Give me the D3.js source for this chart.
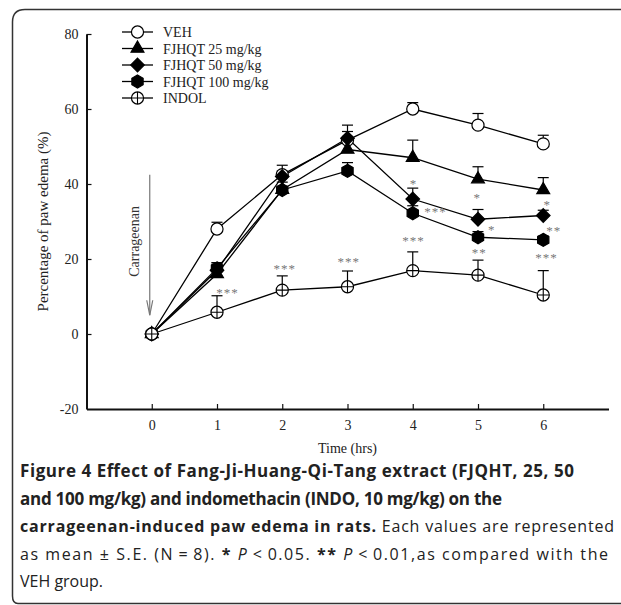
<!DOCTYPE html>
<html>
<head>
<meta charset="utf-8">
<script src="https://cdn.jsdelivr.net/npm/d3@7"></script>
<style>
  body { margin: 0; background: #fff; }
  svg { display: block; }
  .caption { font-family: "Open Sans", sans-serif; font-size: 16px; fill: #222; }
</style>
</head>
<body>
<svg id="chart"></svg>
<script>
// values
const hours = [0, 1, 2, 3, 4, 5, 6];
const groupNames = ['VEH', 'FJHQT 25 mg/kg', 'FJHQT 50 mg/kg', 'FJHQT 100 mg/kg', 'INDOL'];
const vehMean = [0, 28, 42.5, 51.7, 60, 55.7, 50.7];
const vehSE = [0, 1.8, 2.5, 2.3, 1.7, 3.1, 2.3];
const fj25Mean = [0, 16, 38.5, 49.2, 47, 41.3, 38.4];
const fj25SE = [0, 2.5, 2, 2, 4.7, 3.3, 3.3];
const fj50Mean = [0, 17, 42, 52.2, 36, 30.6, 31.6];
const fj50SE = [0, 2, 1.5, 3.5, 2.9, 2.6, 1.4];
const fj100Mean = [0, 17.5, 38.4, 43.5, 32.2, 25.8, 25.1];
const fj100SE = [0, 1.5, 1, 2.2, 2, 1.5, 1];
const indolMean = [0, 5.8, 11.7, 12.6, 16.9, 15.7, 10.4];
const indolSE = [0, 4.4, 3.8, 4.2, 5, 4, 6.5];
const yTicks = [-20, 0, 20, 40, 60, 80];
// significance marks: hour, value where the mark sits, text
const sigHours = [1.16, 2.04, 3.02, 4.01, 4.35, 4.01, 4.99, 5.21, 5.02, 6.06, 6.16, 6.05];
const sigValues = [11.5, 17.9, 19.7, 40.6, 33.1, 25.3, 36.8, 28.3, 22.1, 34.9, 28, 20.8];
const sigTexts = ['***', '***', '***', '*', '***', '***', '*', '*', '**', '*', '**', '***'];
const captionLines = [
  [['Figure 4 Effect of Fang-Ji-Huang-Qi-Tang extract (FJQHT, 25, 50', true]],
  [['and 100 mg/kg) and indomethacin (INDO, 10 mg/kg) on the', true]],
  [['carrageenan-induced paw edema in rats.', true], [' Each values are represented', false]],
  [['as mean \u00b1 S.E. (N\u2009=\u20098). ', false], ['*', true], [' P', 'i'], ['\u2009<\u20090.05. ', false], ['**', true], [' P', 'i'], ['\u2009<\u20090.01,as compared with the', false]],
  [['VEH group.', false]]
];
const captionWidths = [554, 482, 594, 588, 0];

const width = 621, height = 605;
const svg = d3.select('#chart').attr('width', width).attr('height', height);
const serif = '"Liberation Serif", "Times New Roman", serif';

// frame
svg.append('path')
  .attr('d', 'M640,9.5 L25,9.5 Q12.5,9.5 12.5,22 L12.5,596 Q12.5,603.5 18,603.5 L640,603.5')
  .attr('fill', 'none').attr('stroke', '#333').attr('stroke-width', 1.5);

const xScale = d3.scaleLinear().domain([-1, 7]).range([86.5, 608.5]);
const yScale = d3.scaleLinear().domain([-20, 80]).range([409, 34]);

const xAxis = d3.axisBottom(xScale).tickValues(hours).tickSize(-5).tickSizeOuter(0).tickPadding(11);
const yAxis = d3.axisLeft(yScale).tickValues(yTicks).tickFormat(d => String(d))
  .tickSize(-5).tickSizeOuter(0).tickPadding(8);

const gx = svg.append('g').attr('transform', 'translate(0,' + yScale(-20) + ')').call(xAxis);
const gy = svg.append('g').attr('transform', 'translate(' + xScale(-1) + ',0)').call(yAxis);
[gx, gy].forEach(g => {
  g.select('.domain').attr('stroke', '#111').attr('stroke-width', 2);
  g.selectAll('.tick line').attr('stroke', '#111').attr('stroke-width', 1.2);
  g.selectAll('text').attr('font-family', serif).attr('font-size', 14).attr('fill', '#222');
});
gy.select('.tick:first-of-type line').remove();

svg.append('text')
  .attr('transform', 'translate(48,' + yScale(30) + ') rotate(-90)')
  .attr('text-anchor', 'middle')
  .attr('font-family', serif).attr('font-size', 15).attr('fill', '#222')
  .text('Percentage of paw edema (%)');

svg.append('text')
  .attr('x', xScale(3)).attr('y', 453)
  .attr('text-anchor', 'middle')
  .attr('font-family', serif).attr('font-size', 14).attr('fill', '#222')
  .text('Time (hrs)');

// carrageenan arrow
const arrowX = xScale(0) - 2;
svg.append('line')
  .attr('x1', arrowX).attr('x2', arrowX)
  .attr('y1', yScale(42.5)).attr('y2', yScale(5))
  .attr('stroke', '#777').attr('stroke-width', 1.2);
svg.append('path')
  .attr('d', d3.line()([[arrowX - 3, yScale(9)], [arrowX, yScale(5)], [arrowX + 3, yScale(9)]]))
  .attr('fill', 'none').attr('stroke', '#777').attr('stroke-width', 1.2);
svg.append('text')
  .attr('transform', 'translate(' + (arrowX - 11) + ',' + yScale(24.7) + ') rotate(-90)')
  .attr('text-anchor', 'middle')
  .attr('font-family', serif).attr('font-size', 14).attr('fill', '#333')
  .text('Carrageenan');

// marker shapes
const polygon = (n, rot) => ({
  draw(context, size) {
    const r = Math.sqrt(size / (0.5 * n * Math.sin(2 * Math.PI / n)));
    for (let i = 0; i < n; i++) {
      const a = 2 * Math.PI / n * i + rot;
      if (i === 0) context.moveTo(r * Math.cos(a), r * Math.sin(a));
      else context.lineTo(r * Math.cos(a), r * Math.sin(a));
    }
    context.closePath();
  }
});
const hexagon = polygon(6, -Math.PI / 2);
const diamond = polygon(4, -Math.PI / 2);

const groups = [
  { mean: vehMean, se: vehSE, shape: d3.symbolCircle, size: 115, fill: '#fff', cross: false },
  { mean: fj25Mean, se: fj25SE, shape: d3.symbolTriangle, size: 72, fill: '#000', cross: false },
  { mean: fj50Mean, se: fj50SE, shape: diamond, size: 92, fill: '#000', cross: false },
  { mean: fj100Mean, se: fj100SE, shape: hexagon, size: 110, fill: '#000', cross: false },
  { mean: indolMean, se: indolSE, shape: d3.symbolCircle, size: 115, fill: '#fff', cross: true }
];

const drawMarker = (g, grp, x, y) => {
  g.append('path')
    .attr('transform', 'translate(' + x + ',' + y + ')')
    .attr('d', d3.symbol().type(grp.shape).size(grp.size)())
    .attr('fill', grp.fill).attr('stroke', '#000').attr('stroke-width', 1.2);
  if (grp.cross) {
    const r = Math.sqrt(grp.size / Math.PI);
    g.append('path')
      .attr('d', 'M' + (x - r) + ',' + y + 'H' + (x + r) + 'M' + x + ',' + (y - r) + 'V' + (y + r))
      .attr('stroke', '#000').attr('stroke-width', 1.1);
  }
};

const line = d3.line().x((d, i) => xScale(hours[i])).y(d => yScale(d));
const plot = svg.append('g');

// error bars (upper only)
groups.forEach(grp => {
  grp.mean.forEach((m, i) => {
    if (grp.se[i] <= 0) return;
    const x = xScale(hours[i]);
    plot.append('line').attr('x1', x).attr('x2', x)
      .attr('y1', yScale(m)).attr('y2', yScale(m + grp.se[i]))
      .attr('stroke', '#000').attr('stroke-width', 1.2);
    plot.append('line').attr('x1', x - 5.5).attr('x2', x + 5.5)
      .attr('y1', yScale(m + grp.se[i])).attr('y2', yScale(m + grp.se[i]))
      .attr('stroke', '#000').attr('stroke-width', 1.2);
  });
});

groups.forEach(grp => {
  plot.append('path').attr('d', line(grp.mean))
    .attr('fill', 'none').attr('stroke', '#000').attr('stroke-width', 1.3);
});
groups.forEach(grp => {
  grp.mean.forEach((m, i) => drawMarker(plot, grp, xScale(hours[i]), yScale(m)));
});

// significance stars
sigTexts.forEach((t, i) => {
  svg.append('text')
    .attr('x', xScale(sigHours[i])).attr('y', yScale(sigValues[i]) + 6)
    .attr('text-anchor', 'middle')
    .attr('font-family', serif).attr('font-size', 13).attr('fill', '#777')
    .attr('letter-spacing', 1)
    .text(t);
});

// legend
const legend = svg.append('g');
groups.forEach((grp, i) => {
  const y = 32 + i * 16.5;
  legend.append('line').attr('x1', 122).attr('x2', 153).attr('y1', y).attr('y2', y)
    .attr('stroke', '#000').attr('stroke-width', 1.3);
  drawMarker(legend, grp, 137.5, y);
  legend.append('text').attr('x', 163).attr('y', y + 5)
    .attr('font-family', serif).attr('font-size', 14).attr('fill', '#222')
    .text(groupNames[i]);
});

// caption
captionLines.forEach((parts, i) => {
  const t = svg.append('text').attr('class', 'caption')
    .attr('x', 20).attr('y', 477 + i * 27.5);
  parts.forEach(p => {
    t.append('tspan')
      .attr('font-weight', p[1] === true ? 'bold' : 'normal')
      .attr('font-style', p[1] === 'i' ? 'italic' : 'normal')
      .attr('font-size', p[1] === true && i < 2 ? 17 : null)
      .text(p[0]);
  });
  if (captionWidths[i] > 0) {
    t.attr('textLength', captionWidths[i]).attr('lengthAdjust', 'spacing');
  }
});
</script>
</body>
</html>
